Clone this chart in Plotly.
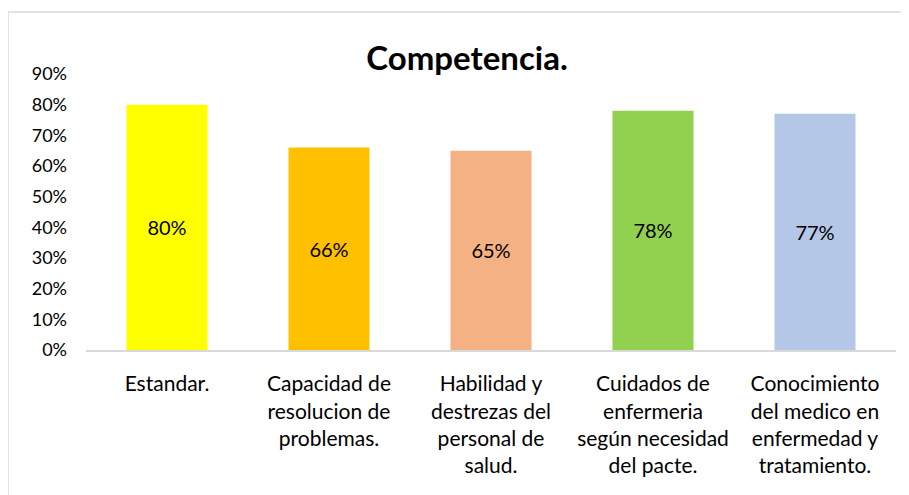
import plotly.graph_objects as go

categories = [
    "Estandar.",
    "Capacidad de<br>resolucion de<br>problemas.",
    "Habilidad y<br>destrezas del<br>personal de<br>salud.",
    "Cuidados de<br>enfermeria<br>según necesidad<br>del pacte.",
    "Conocimiento<br>del medico en<br>enfermedad y<br>tratamiento.",
]
values = [0.80, 0.66, 0.65, 0.78, 0.77]
labels = ["80%", "66%", "65%", "78%", "77%"]
colors = ["#FFFF00", "#FFC000", "#F4B183", "#92D050", "#B4C7E7"]

FONT = "Lato, Liberation Sans, sans-serif"

fig = go.Figure()
fig.add_trace(go.Bar(
    x=categories,
    y=values,
    text=labels,
    textposition="inside",
    insidetextanchor="middle",
    textfont=dict(size=20, color="#000000", family=FONT),
    marker=dict(color=colors, line=dict(width=0)),
    width=0.5,
))

# chart border (Excel style frame)
fig.add_shape(type="rect", xref="paper", yref="paper",
              x0=-78 / 810, x1=1.2, y0=-1.0, y1=(342 - 4) / 276,
              line=dict(color="#D9D9D9", width=1.5), layer="below")

fig.update_layout(
    width=909, height=495,
    margin=dict(l=78, r=21, t=66, b=153),
    paper_bgcolor="white",
    plot_bgcolor="white",
    showlegend=False,
    font=dict(family=FONT, color="#000000"),
    title=dict(text="<b>Competencia.</b>", x=459 / 909, xanchor="center",
               y=1 - 50 / 495, yanchor="middle",
               font=dict(size=33, family=FONT, color="#000000")),
)
fig.update_yaxes(range=[0, 0.9], dtick=0.1, tickformat=".0%",
                 showgrid=False, zeroline=False, showline=False,
                 tickfont=dict(size=18), ticklabelstandoff=18)
fig.update_xaxes(showline=True, linecolor="#D9D9D9", linewidth=2,
                 showgrid=False, tickfont=dict(size=21), ticklabelstandoff=14,
                 tickangle=0)

fig.write_html("out.html")
